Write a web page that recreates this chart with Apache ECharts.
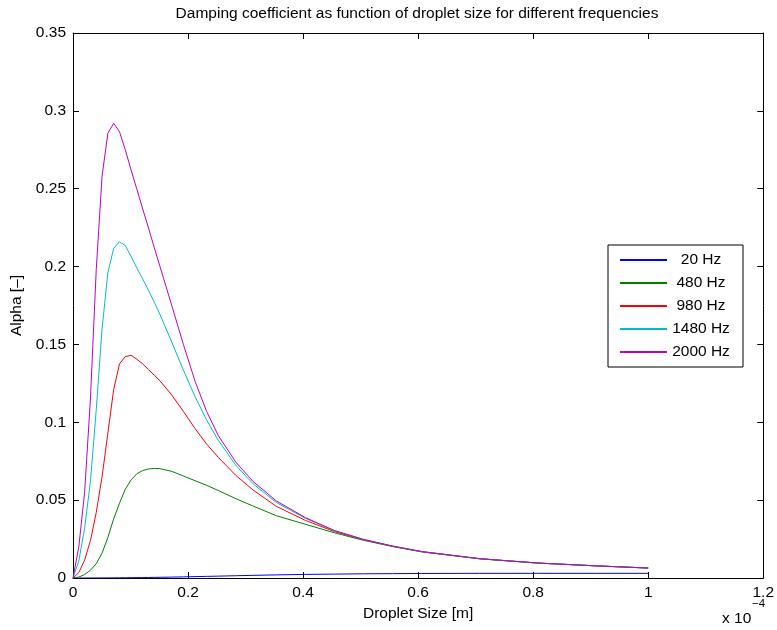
<!DOCTYPE html>
<html>
<head>
<meta charset="utf-8">
<script src="https://cdn.jsdelivr.net/npm/echarts@6/dist/echarts.min.js"></script>
<style>
html,body{margin:0;padding:0;background:#fff;}
#chart{width:777px;height:630px;}
</style>
</head>
<body>
<div id="chart"></div>
<script>
// droplet size in units of 1e-4 m
const dropletSize = [0, 0.0101, 0.0202, 0.0303, 0.0404, 0.0505, 0.0606, 0.0707, 0.0808, 0.0909, 0.101, 0.1111, 0.1212, 0.1313, 0.1414, 0.1515, 0.1717, 0.1919, 0.2121, 0.2323, 0.2525, 0.2828, 0.3131, 0.3535, 0.404, 0.4545, 0.5051, 0.5556, 0.6061, 0.7071, 0.8081, 0.9091, 1.0];

const alpha20 = [0, 0.000002, 0.000008, 0.00002, 0.00003, 0.00005, 0.00007, 0.0001, 0.00013, 0.00017, 0.0002, 0.00025, 0.0003, 0.00034, 0.0004, 0.00046, 0.00059, 0.00073, 0.00088, 0.00104, 0.0012, 0.00145, 0.0017, 0.002, 0.0023, 0.0025, 0.0027, 0.0028, 0.0029, 0.003, 0.003, 0.003, 0.003];
const alpha480 = [0, 0.0006, 0.0022, 0.005, 0.0092, 0.016, 0.026, 0.038, 0.048, 0.057, 0.063, 0.067, 0.069, 0.070, 0.0704, 0.0702, 0.0685, 0.0655, 0.0625, 0.0595, 0.0562, 0.051, 0.0462, 0.040, 0.0345, 0.029, 0.0242, 0.0202, 0.0168, 0.0123, 0.0096, 0.0078, 0.0064];
const alpha980 = [0, 0.0035, 0.0115, 0.024, 0.042, 0.065, 0.093, 0.121, 0.1375, 0.1422, 0.143, 0.1405, 0.1375, 0.1338, 0.1302, 0.1265, 0.1175, 0.107, 0.096, 0.086, 0.0775, 0.066, 0.0565, 0.046, 0.037, 0.0298, 0.0245, 0.0204, 0.0169, 0.0124, 0.0096, 0.0078, 0.0064];
const alpha1480 = [0, 0.011, 0.032, 0.062, 0.108, 0.160, 0.196, 0.2117, 0.216, 0.2135, 0.2065, 0.199, 0.192, 0.1848, 0.177, 0.169, 0.1515, 0.1335, 0.1165, 0.1015, 0.0885, 0.0725, 0.0605, 0.0485, 0.0383, 0.0303, 0.0247, 0.0205, 0.0170, 0.0124, 0.0096, 0.0078, 0.0064];
const alpha2000 = [0, 0.02, 0.055, 0.115, 0.198, 0.258, 0.2856, 0.292, 0.2866, 0.275, 0.262, 0.2496, 0.237, 0.2248, 0.212, 0.1997, 0.175, 0.150, 0.1265, 0.107, 0.0915, 0.0745, 0.062, 0.0495, 0.0388, 0.0305, 0.0248, 0.0205, 0.0170, 0.0124, 0.0096, 0.0078, 0.0064];

const seriesNames = ['20 Hz', '480 Hz', '980 Hz', '1480 Hz', '2000 Hz'];
const seriesColors = ['#0000ff', '#008000', '#ff0000', '#00bfbf', '#bf00bf'];
const seriesValues = [alpha20, alpha480, alpha980, alpha1480, alpha2000];

const titleText = 'Damping coefficient as function of droplet size for different frequencies';
const xName = 'Droplet Size [m]';
const yName = 'Alpha [\u2013]';

const FONT = 'Liberation Sans, Arial, Helvetica, sans-serif';
const FS = 15.5;

const chart = echarts.init(document.getElementById('chart'), null, {renderer: 'canvas'});

function pairs(vals) { return dropletSize.map((x, i) => [x, vals[i]]); }

const baseX = {
  type: 'value', min: 0, max: 1.2, interval: 0.2,
  axisLine: {show: true, onZero: false, lineStyle: {color: '#000', width: 1}},
  axisTick: {show: true, inside: true, length: 6, lineStyle: {color: '#000'}},
  splitLine: {show: false}
};
const baseY = {
  type: 'value', min: 0, max: 0.35, interval: 0.05,
  axisLine: {show: true, onZero: false, lineStyle: {color: '#000', width: 1}},
  axisTick: {show: true, inside: true, length: 6, lineStyle: {color: '#000'}},
  splitLine: {show: false}
};

const option = {
  backgroundColor: '#fff',
  animation: false,
  title: {
    text: titleText, left: 412, top: 1, textAlign: 'center',
    textStyle: {fontFamily: FONT, fontSize: FS, fontWeight: 'normal', color: '#000'}
  },
  grid: {left: 73, right: 13, top: 33, bottom: 52, containLabel: false},
  xAxis: [
    Object.assign({}, baseX, {
      position: 'bottom',
      axisLabel: {color: '#000', fontFamily: FONT, fontSize: FS, margin: 7},
      name: xName, nameLocation: 'middle', nameGap: 18,
      nameTextStyle: {color: '#000', fontFamily: FONT, fontSize: FS}
    }),
    Object.assign({}, baseX, {position: 'top', axisLabel: {show: false}})
  ],
  yAxis: [
    Object.assign({}, baseY, {
      position: 'left',
      axisLabel: {color: '#000', fontFamily: FONT, fontSize: FS, margin: 7},
      name: yName, nameLocation: 'middle', nameGap: 35,
      nameTextStyle: {color: '#000', fontFamily: FONT, fontSize: FS}
    }),
    Object.assign({}, baseY, {position: 'right', axisLabel: {show: false}})
  ],
  legend: {
    orient: 'vertical', left: 608, top: 245,
    data: seriesNames,
    backgroundColor: '#fff', borderColor: '#000', borderWidth: 1, borderRadius: 0,
    padding: [7, 13, 7, 11], itemWidth: 47, itemHeight: 14, itemGap: 7,
    itemStyle: {opacity: 0},
    formatter: name => '{a|' + name + '}',
    textStyle: {
      color: '#000', fontFamily: FONT, fontSize: FS,
      rich: {a: {width: 58, height: 14, lineHeight: 14, align: 'center', color: '#000', fontFamily: FONT, fontSize: FS}}
    }
  },
  graphic: [
    {type: 'text', left: 722, top: 611, style: {text: 'x 10', fontFamily: FONT, fontSize: FS, fill: '#000'}},
    {type: 'text', left: 752, top: 598, style: {text: '\u22124', fontFamily: FONT, fontSize: 11.5, fill: '#000'}}
  ],
  series: seriesNames.map((n, i) => ({
    name: n, type: 'line', xAxisIndex: 0, yAxisIndex: 0,
    data: pairs(seriesValues[i]),
    symbol: 'none', smooth: false,
    lineStyle: {color: seriesColors[i], width: 1},
    itemStyle: {color: seriesColors[i]},
    z: 2 + i
  }))
};
chart.setOption(option);
</script>
</body>
</html>
